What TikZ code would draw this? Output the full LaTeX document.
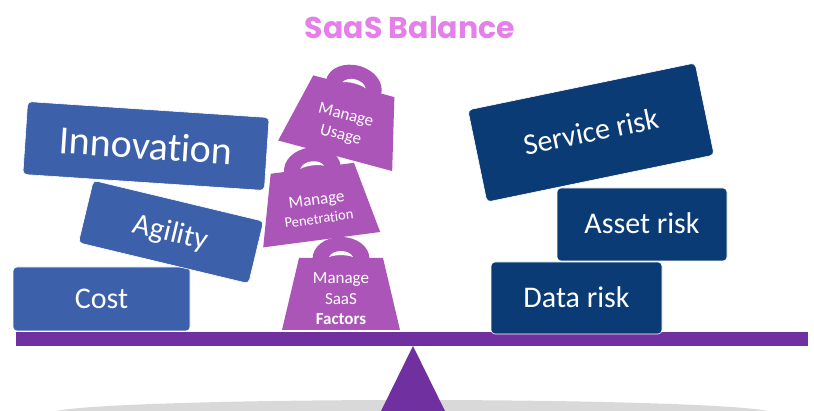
\documentclass[tikz,border=0pt]{standalone}
\usepackage{fontspec}
\setmainfont{Carlito}[Ligatures=NoCommon]
\newfontfamily\titlefont{Poppins}
\usepackage{tikz}
\usepackage{xcolor}
\definecolor{boxblue}{RGB}{60,96,170}
\definecolor{risknavy}{RGB}{11,59,117}
\definecolor{weightpurple}{RGB}{171,85,185}
\definecolor{beampurple}{RGB}{112,48,160}
\definecolor{titlepink}{RGB}{229,128,234}
\definecolor{shadowgray}{RGB}{217,217,217}
% name, x, y, angle, text
\newcommand\saasweight[5]{
  \begin{scope}[shift={(#2,#3)}, rotate=#4]
    \fill[weightpurple] (-42,-36) -- (42,-36) -- (59,36) -- (-59,36) -- cycle;
    \fill[weightpurple] (-28.5,-35) .. controls (-28.5,-47.6) and (-15.7,-57) .. (0,-57)
      .. controls (15.7,-57) and (28.5,-47.6) .. (28.5,-35) -- cycle;
    \fill[white] (-12,-37) .. controls (-8,-45) and (8,-45) .. (12,-37)
      .. controls (6,-39.5) and (-6,-39.5) .. cycle;
    \node[weighttext, transform shape] (#1) at (0,5) {#5};
  \end{scope}
}

\begin{document}
\begin{tikzpicture}[x=1pt, y=-1pt,
    leftbox/.style={fill=boxblue, draw=white, line width=0.6pt, rounded corners=4pt,
      text=white, font=\fontsize{30}{36}\selectfont, text height=19pt, text depth=0pt, inner sep=0pt},
    riskbox/.style={leftbox, fill=risknavy},
    weighttext/.style={text=white, align=center, inner sep=0pt,
      font=\fontsize{17}{20.5}\selectfont}]
	    		\clip (0,0) rectangle (814,411);
	    		\node[font=\titlefont\bfseries\fontsize{30}{36}\selectfont, text=titlepink, anchor=base] (title) at (410,39) {SaaS Balance};
	    		\fill[shadowgray] (412,413) ellipse[x radius=360, y radius=13];
	    		\fill[beampurple] (16,332) rectangle (808,346);
	    		\fill[beampurple] (381,411) -- (413,346) -- (445,411) -- cycle;
	    		\node[leftbox, minimum width=177, minimum height=64] (cost) at (101.5,299) {Cost};
	    		\node[leftbox, minimum width=175, minimum height=64, rotate=-13.5] (agility) at (171,232) {Agility};
	    		\node[leftbox, minimum width=242, minimum height=73, rotate=-3.8,
	    		  font=\fontsize{40}{48}\selectfont, text height=26pt] (innovation) at (146,146) {Innovation};
	    		\saasweight{factors}{341}{294}{0}{Manage\\SaaS\\\textbf{Factors}}
	    		\saasweight{penetration}{317}{204}{7.5}{Manage\\[-2pt]{\fontsize{14.5}{18}\selectfont Penetration}}
	    		\saasweight{usage}{344.5}{121}{-15}{Manage\\Usage}
	    		\node[riskbox, minimum width=171, minimum height=72] (data) at (576.5,298) {Data risk};
	    		\node[riskbox, minimum width=170, minimum height=73] (asset) at (642,224.5) {Asset risk};
	    		\node[riskbox, minimum width=232, minimum height=94, rotate=11.7] (service) at (591,132.5) {Service risk};
	    	\end{tikzpicture}
\end{document}
